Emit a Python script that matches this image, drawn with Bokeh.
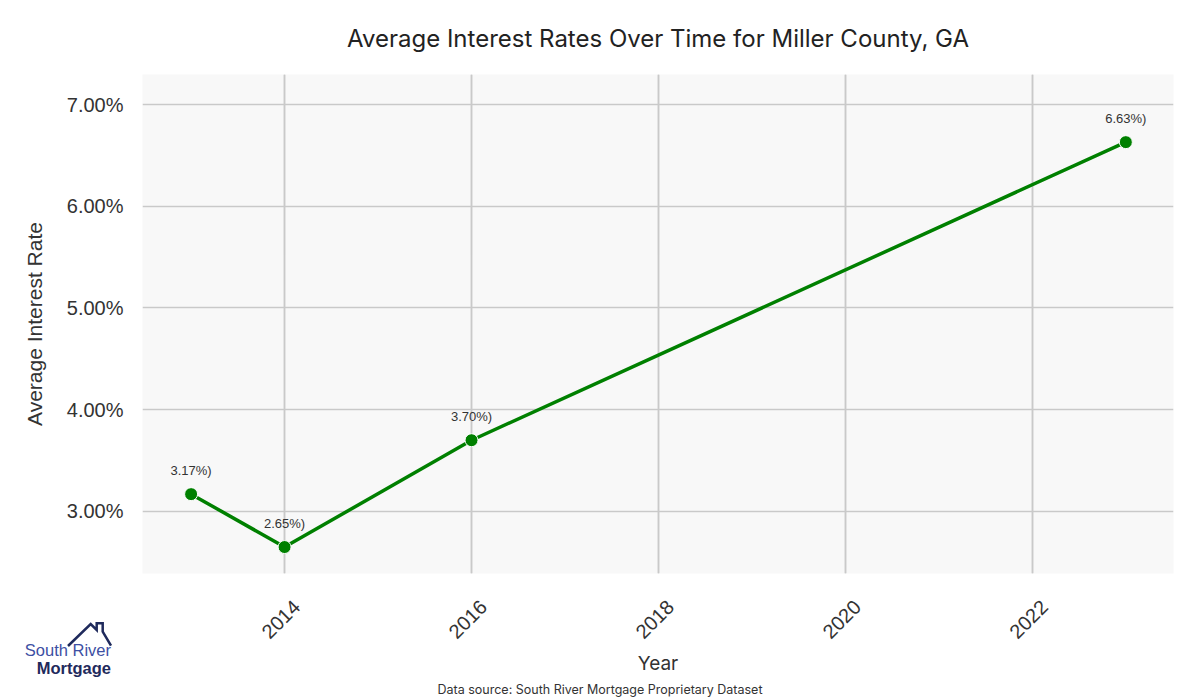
import numpy as np
from bokeh.plotting import figure
from bokeh.layouts import column
from bokeh.models import (ColumnDataSource, Range1d, FixedTicker, CustomJSTickFormatter, Title,
                          LinearAxis, Grid, Div)
from bokeh.core.properties import value
from bokeh.embed import file_html
from bokeh.resources import INLINE

years = [2013, 2014, 2016, 2023]
rates = [3.17, 2.65, 3.70, 6.63]
labels = ["3.17%)", "2.65%)", "3.70%)", "6.63%)"]
x_ticks = [2014, 2016, 2018, 2020, 2022]
y_ticks = [3, 4, 5, 6, 7]

W, H = 1200, 700
FL, FT, FR, FB = 142, 74, 27, 127  # frame borders
X0, X1 = 2012.48, 2023.51
p = figure(width=W, height=H, output_backend="svg", toolbar_location=None,
           x_range=Range1d(X0, X1), y_range=Range1d(2.39, 7.295), x_axis_location=None,
           min_border_left=FL, min_border_right=FR, min_border_top=FT, min_border_bottom=FB)
p.background_fill_color = "#f8f8f8"
p.border_fill_color = "white"
p.outline_line_color = None

p.title.text = "Average Interest Rates Over Time for Miller County, GA"
p.title.align = "center"
p.title.text_font = "Inter"
p.title.text_font_size = "24px"
p.title.text_font_style = "normal"
p.title.text_color = "#222222"
p.title.standoff = 43

# tick labels of the rotated x axis sit centred under their ticks (shift of ~12 px)
shift = 12 * (X1 - X0) / (W - FL - FR)
p.extra_x_ranges = {"lab": Range1d(X0 - shift, X1 - shift)}
xax = LinearAxis(x_range_name="lab", ticker=FixedTicker(ticks=x_ticks))
p.add_layout(xax, "below")
p.add_layout(Grid(dimension=0, ticker=FixedTicker(ticks=x_ticks)))

src = ColumnDataSource(dict(x=years, y=rates, lab=labels))
p.line("x", "y", source=src, line_color="#008000", line_width=3.5)
p.scatter("x", "y", source=src, size=13, fill_color="#008000", line_color="white", line_width=1)
p.text("x", "y", text="lab", source=src, text_align="center", text_baseline="middle",
       y_offset=-24, text_font=value("Liberation Sans"), text_font_size="13px", text_color="#333333")

p.yaxis.ticker = FixedTicker(ticks=y_ticks)
p.yaxis.formatter = CustomJSTickFormatter(code="return tick.toFixed(2) + '%';")
for ax in (xax, p.yaxis[0]):
    ax.axis_line_color = None
    ax.major_tick_line_color = None
    ax.minor_tick_line_color = None
    ax.major_tick_out = 0
    ax.major_tick_in = 0
    ax.major_label_text_font = "Liberation Sans"
    ax.major_label_text_font_size = "20px"
    ax.major_label_text_color = "#333333"
    ax.axis_label_text_font_style = "normal"
    ax.axis_label_text_color = "#333333"
xax.major_label_orientation = np.pi / 4
xax.axis_label = "Year"
xax.axis_label_text_font = "Inter"
xax.axis_label_text_font_size = "19px"
xax.major_label_standoff = 30
xax.axis_label_standoff = 4
p.yaxis.axis_label = "Average Interest Rate"
p.yaxis.axis_label_text_font = "Liberation Sans"
p.yaxis.axis_label_text_font_size = "21px"
p.yaxis.major_label_standoff = 19
p.yaxis.axis_label_standoff = 18

p.grid.grid_line_color = "#c9c9c9"
p.grid.grid_line_width = 1.5

src_title = Title(text="Data source: South River Mortgage Proprietary Dataset", align="left",
                  offset=295, text_font="Inter", text_font_size="12.5px", text_font_style="normal",
                  text_color="#333333", standoff=4)
p.add_layout(src_title, "below")

# logo, an inline SVG laid over the bottom-left corner
LX0, LY0, LW, LH = 18, 614, 100, 70
logo_svg = (
    f'<svg xmlns="http://www.w3.org/2000/svg" width="{LW}" height="{LH}" '
    f'viewBox="{LX0} {LY0} {LW} {LH}" style="display:block;overflow:visible">'
    '<polyline points="68,646 90.7,624 96.7,630 96.7,623.3 102.7,623.3 102.7,631.7 111,645.7" '
    'fill="none" stroke="#1f2a5c" stroke-width="2.5" stroke-linejoin="miter"/>'
    '<text x="111" y="652" text-anchor="end" dominant-baseline="middle" '
    'font-family="Inter" font-size="16.5" font-weight="500" fill="#3d4fa3">South River</text>'
    '<text x="111" y="670" text-anchor="end" dominant-baseline="middle" '
    'font-family="Inter" font-size="16.5" font-weight="bold" fill="#1f2a5c">Mortgage</text>'
    '</svg>'
)
logo = Div(text=logo_svg, width=LW, height=LH, margin=(LY0 - H, 0, 0, LX0))

layout = column(p, logo, spacing=0)
open("out.html", "w").write(file_html(layout, INLINE))
